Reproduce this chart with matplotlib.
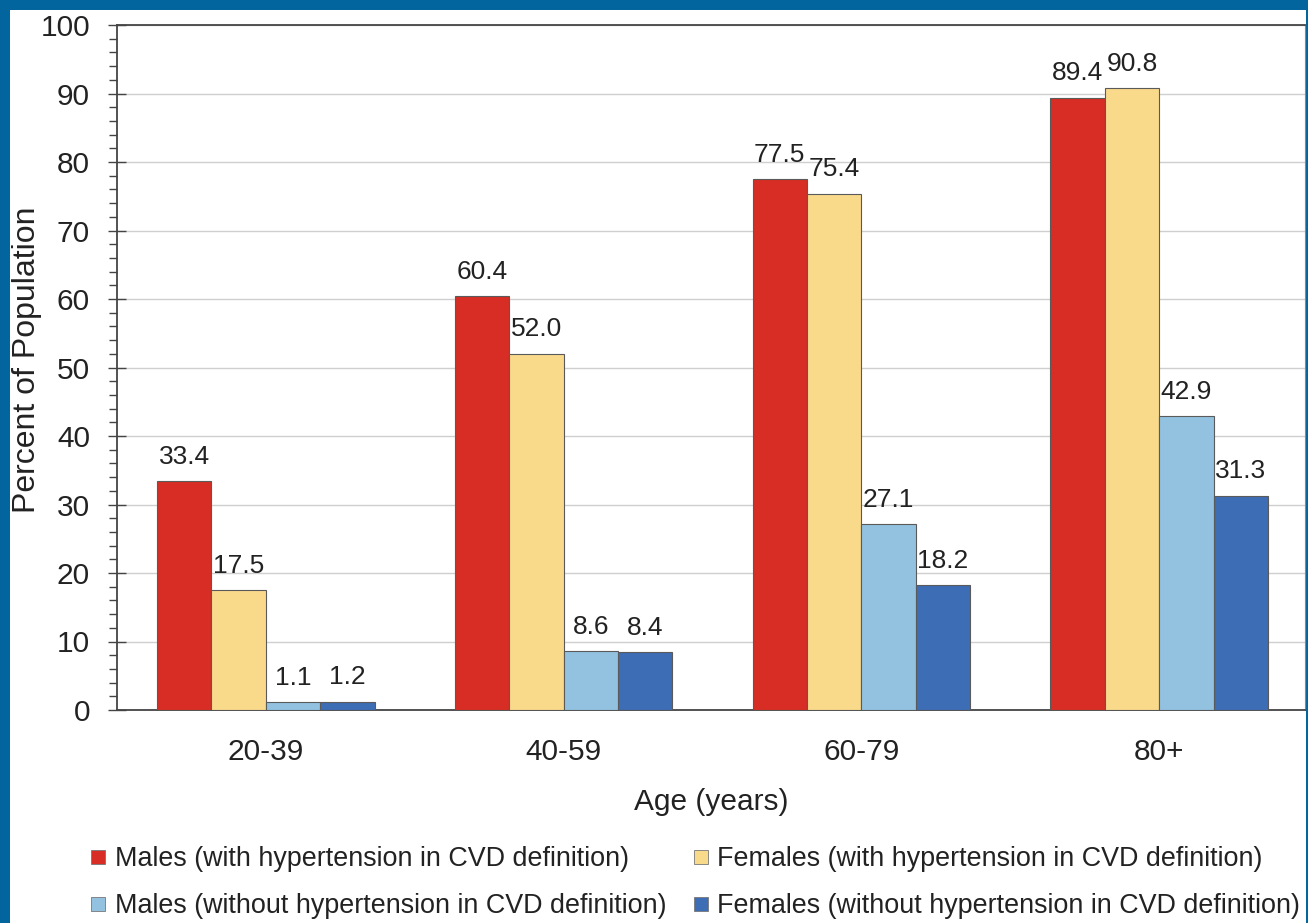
import numpy as np
import matplotlib
matplotlib.use("Agg")
from matplotlib import pyplot as plt
from matplotlib.lines import Line2D
from matplotlib.patches import Rectangle
from matplotlib.ticker import MultipleLocator

##########
# Data   #
##########

ages = ["20-39", "40-59", "60-79", "80+"]
males_with = [33.4, 60.4, 77.5, 89.4]
females_with = [17.5, 52.0, 75.4, 90.8]
males_without = [1.1, 8.6, 27.1, 42.9]
females_without = [1.2, 8.4, 18.2, 31.3]

series_names = [
    "Males (with hypertension in CVD definition)",
    "Females (with hypertension in CVD definition)",
    "Males (without hypertension in CVD definition)",
    "Females (without hypertension in CVD definition)",
]
series_colors = ["#d72d24", "#f9da8b", "#93c2e0", "#3d6db5"]

##########
# Style  #
##########

plt.rcParams["font.family"] = ["Liberation Sans", "DejaVu Sans"]
txt = "#222222"
frame_blue = "#03659e"

W, H = 1308, 923
fig = plt.figure(figsize=(W / 100, H / 100), dpi=100, facecolor=frame_blue)
# white panel inside the blue frame
fig.patches.append(Rectangle((10 / W, 0), 1296 / W, 913 / H,
                             transform=fig.transFigure, facecolor="white",
                             edgecolor="none", zorder=-5))

ax = fig.add_axes([117 / W, 1 - 710 / H, 1188 / W, 685 / H])
ax.set_facecolor("white")

x = np.arange(len(ages))
w = 0.1827
values = [males_with, females_with, males_without, females_without]

for k, (vals, col) in enumerate(zip(values, series_colors)):
    pos = x + (k - 1.5) * w
    bars = ax.bar(pos, vals, width=w, color=col, edgecolor="#5a5a5a",
                  linewidth=0.8, zorder=3)
    for b, v in zip(bars, vals):
        ax.annotate(f"{v:.1f}", (b.get_x() + b.get_width() / 2, v),
                    xytext=(0, 9), textcoords="offset points",
                    ha="center", va="bottom", fontsize=19, color=txt)

ax.set_xlim(-0.5, 3.49)
ax.set_ylim(0, 100)
ax.yaxis.set_major_locator(MultipleLocator(10))
ax.yaxis.set_minor_locator(MultipleLocator(2))
ax.grid(axis="y", which="major", color="#cfcfcf", linewidth=1.0, zorder=0)

ax.tick_params(axis="y", which="major", direction="inout", length=13,
               width=1.0, color="#444444", pad=13, labelsize=21.5,
               labelcolor=txt)
ax.tick_params(axis="y", which="minor", direction="out", length=6,
               width=1.0, color="#444444")
ax.set_xticks(x)
ax.set_xticklabels(ages)
ax.tick_params(axis="x", length=0, pad=20, labelsize=21.5, labelcolor=txt)

for side in ["left", "bottom", "top"]:
    ax.spines[side].set_color("#444444")
    ax.spines[side].set_linewidth(1.3)
ax.spines["right"].set_color("#888888")

ax.set_xlabel("Age (years)", fontsize=21.5, color=txt, labelpad=16)
ax.set_ylabel("Percent of Population", fontsize=23, color=txt)
ax.yaxis.set_label_coords(-0.063, 0.512)

# legend, filled column by column
handles = [Line2D([], [], linestyle="none", marker="s", markersize=10,
                  markerfacecolor=c, markeredgecolor="#777777",
                  markeredgewidth=0.6) for c in series_colors]
order = [0, 2, 1, 3]
fig.legend([handles[i] for i in order], [series_names[i] for i in order],
           ncol=2, loc="upper left", bbox_to_anchor=(89 / W, 1 - 846 / H),
           frameon=False, fontsize=19.4, handlelength=0.7,
           handletextpad=0.25, columnspacing=0.95, labelspacing=0.78,
           borderpad=0, borderaxespad=0, labelcolor=txt)

fig.savefig("out.png", dpi=100, facecolor=frame_blue)
